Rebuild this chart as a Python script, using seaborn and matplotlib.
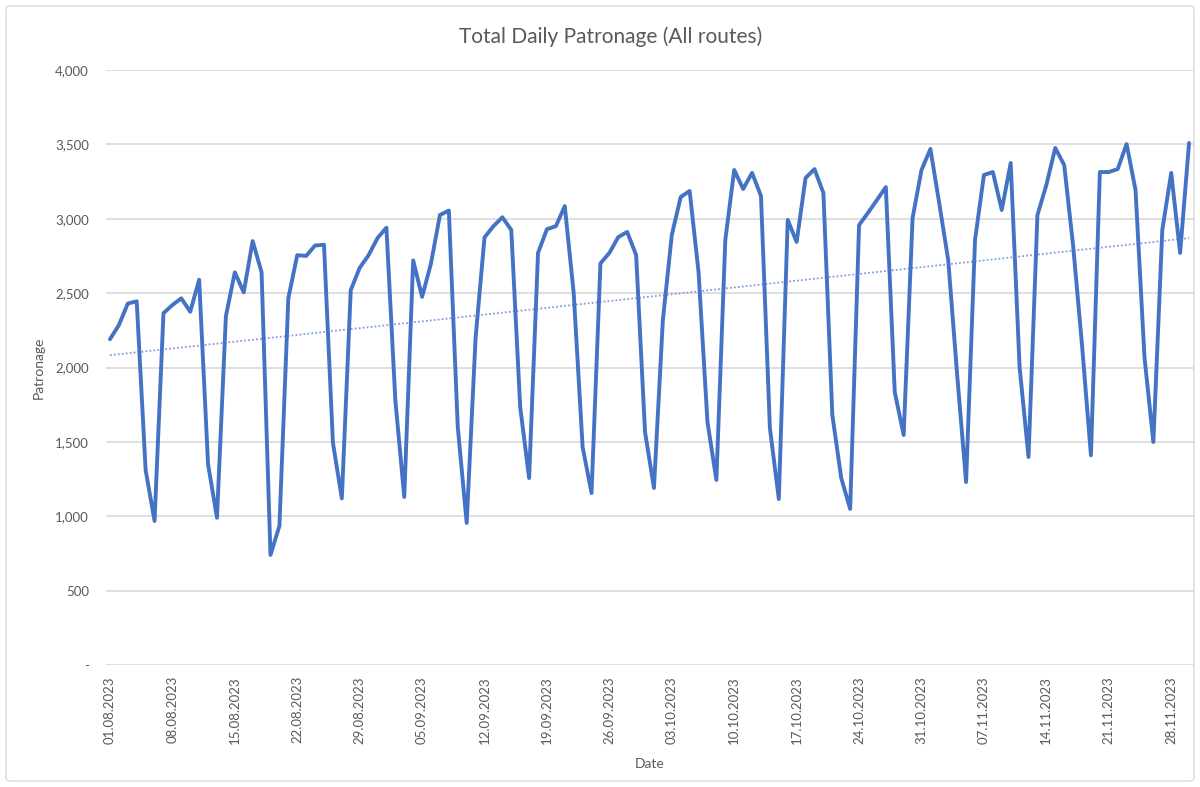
import numpy as np
import pandas as pd
import seaborn as sns
from matplotlib import pyplot as plt
from matplotlib.patches import FancyBboxPatch

# daily totals, 01.08.2023 - 30.11.2023
patronage = [2190, 2285, 2430, 2445, 1310, 968, 2365,
             2420, 2465, 2375, 2590, 1350, 990, 2345,
             2640, 2505, 2850, 2640, 740, 935, 2465,
             2755, 2750, 2820, 2825, 1495, 1120, 2520,
             2670, 2755, 2870, 2940, 1780, 1130, 2720,
             2475, 2700, 3025, 3055, 1600, 955, 2200,
             2875, 2950, 3010, 2925, 1735, 1257, 2770,
             2930, 2950, 3085, 2500, 1466, 1156, 2700,
             2770, 2877, 2911, 2756, 1566, 1190, 2320,
             2891, 3146, 3187, 2642, 1634, 1244, 2857,
             3328, 3200, 3308, 3153, 1593, 1116, 2992,
             2844, 3274, 3334, 3173, 1681, 1257, 1049,
             2958, 3040, 3126, 3213, 1835, 1546, 3005,
             3328, 3469, 3100, 2720, 1950, 1230, 2857,
             3294, 3314, 3059, 3375, 2003, 1398, 3025,
             3227, 3476, 3361, 2820, 2150, 1410, 3314,
             3314, 3334, 3502, 3193, 2071, 1499, 2924,
             3308, 2770, 3509]
start_date = '2023-08-01'
y_ticks = [0, 500, 1000, 1500, 2000, 2500, 3000, 3500, 4000]
y_labels = ['-', '500', '1,000', '1,500', '2,000', '2,500', '3,000', '3,500', '4,000']

dates = pd.date_range(start_date, periods=len(patronage), freq='D')
df = pd.DataFrame({'Date': dates, 'Patronage': patronage})

# linear trendline like excel
idx = np.arange(len(df))
k, b = np.polyfit(idx, df['Patronage'], 1)
df['Trend'] = k * idx + b

sns.set_style('white')
plt.rcParams['font.family'] = ['Lato', 'DejaVu Sans']

fig = plt.figure(figsize=(12, 7.87), dpi=100)
ax = fig.add_axes([105.5 / 1200, 1 - 665 / 787, (1193.5 - 105.5) / 1200, (665 - 70) / 787])

fig.patches.append(FancyBboxPatch((6 / 1200, 6 / 787), 1188 / 1200, 775 / 787,
                                  boxstyle='round,pad=0,rounding_size=0.004',
                                  transform=fig.transFigure, fill=False,
                                  edgecolor='#d9d9d9', linewidth=1))

sns.lineplot(data=df, x='Date', y='Trend', ax=ax, color='#7da0da', linewidth=1.3,
             linestyle=(0, (1, 1.2)))
sns.lineplot(data=df, x='Date', y='Patronage', ax=ax, color='#4472C4', linewidth=2.8)

ax.set_ylim(0, 4000)
ax.set_xlim(dates[0] - pd.Timedelta(hours=12), dates[-1] + pd.Timedelta(hours=12))
ax.set_yticks(y_ticks)
ax.set_yticklabels(y_labels)
ax.set_xticks(dates[::7])
ax.set_xticklabels([d.strftime('%d.%m.%Y') for d in dates[::7]], rotation=90)
ax.tick_params(axis='both', length=0, labelsize=9.5, colors='#595959')
ax.tick_params(axis='y', pad=12)
ax.tick_params(axis='x', pad=8)

ax.grid(axis='y', color='#d9d9d9', linewidth=1.2)
for s in ax.spines.values():
    s.set_visible(False)

fig.text(611 / 1200, 1 - 37 / 787, 'Total Daily Patronage (All routes)', fontsize=15,
         color='#595959', ha='center', va='center')
ax.set_ylabel('Patronage', fontsize=10, color='#595959', labelpad=7)
ax.set_xlabel('Date', fontsize=10, color='#595959', labelpad=10)

plt.savefig('out.png', dpi=100)
